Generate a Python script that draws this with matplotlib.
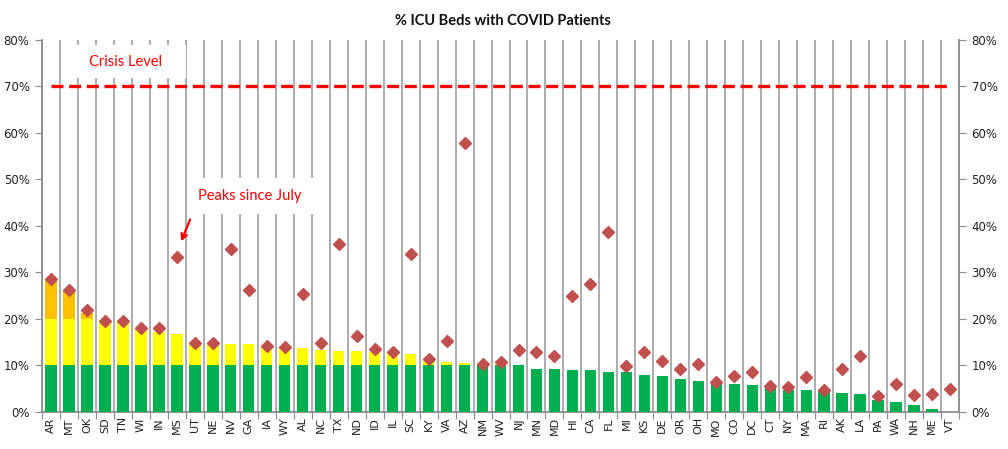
import numpy as np
import matplotlib
matplotlib.use("Agg")
import matplotlib.pyplot as plt
from matplotlib.ticker import FuncFormatter

states = ["AR","MT","OK","SD","TN","WI","IN","MS","UT","NE","NV","GA","IA","WY","AL","NC",
          "TX","ND","ID","IL","SC","KY","VA","AZ","NM","WV","NJ","MN","MD","HI","CA","FL",
          "MI","KS","DE","OR","OH","MO","CO","DC","CT","NY","MA","RI","AK","LA","PA","WA",
          "NH","ME","VT"]
current = [28.4,26.2,21.3,19.8,19.8,18.1,17.1,16.8,14.9,14.9,14.6,14.6,14.0,14.0,13.7,13.2,
           13.0,13.0,12.8,12.8,12.5,11.1,10.6,10.4,10.2,10.2,10.1,9.2,9.2,9.0,9.0,8.5,
           8.5,8.0,7.6,7.1,6.6,6.4,5.9,5.7,5.5,4.7,4.7,4.7,4.0,3.8,2.6,2.1,
           1.5,0.5,0.0]
peak = [28.5,26.1,21.9,19.5,19.5,18.1,18.1,33.2,14.8,14.8,35.1,26.3,14.1,13.9,25.4,14.8,
        36.0,16.4,13.4,12.9,33.9,11.3,15.3,57.8,10.3,10.8,13.2,12.9,12.1,24.9,27.4,38.6,
        9.9,12.9,11.0,9.1,10.2,6.4,7.7,8.6,5.6,5.4,7.5,4.6,9.1,12.1,3.3,6.0,
        3.5,3.9,4.9]
crisis_level = 70
band_low, band_high = 10, 20

title = "% ICU Beds with COVID Patients"

cur = np.array(current)
green = np.minimum(cur, band_low)
yellow = np.clip(cur, band_low, band_high) - band_low
orange = np.maximum(cur, band_high) - band_high

n = len(states)
x = np.arange(n)

fig = plt.figure(figsize=(10.08, 4.49), dpi=100)
ax = fig.add_axes([0.0417, 0.083, 0.9097, 0.828])
ax.set_axisbelow(True)

w = 0.63
ax.bar(x, green, w, color="#00B050", zorder=3)
ax.bar(x, yellow, w, bottom=green, color="#FFFF00", zorder=3)
ax.bar(x, orange, w, bottom=green + yellow, color="#FFC000", zorder=3)
ax.plot(x, peak, linestyle="none", marker="D", markersize=6.3,
        color="#C0504D", zorder=5)
ax.plot(x, [crisis_level] * n, color="#FF0000", linewidth=2.4,
        dashes=(3.6, 1.7), zorder=4)

ax.set_xlim(-0.5, n - 0.5)
ax.set_ylim(0, 80)
ax.set_yticks(np.arange(0, 81, 10))
ax.yaxis.set_major_formatter(FuncFormatter(lambda v, p: f"{int(v)}%"))

ax.set_xticks(np.arange(n + 1) - 0.5)
ax.set_xticklabels([])
ax.set_xticks(x, minor=True)
ax.set_xticklabels(states, minor=True, rotation=90, fontsize=8, color="#222222")
ax.tick_params(axis="x", which="minor", length=0, pad=4)
ax.tick_params(axis="x", which="major", length=5, color="#8C8C8C", direction="out")
ax.grid(axis="x", which="major", color="#A6A6A6", linewidth=1.3)
ax.tick_params(axis="y", which="major", left=True, right=True, labelleft=True,
               labelright=True, length=5, color="#8C8C8C", labelsize=8.5,
               labelcolor="#222222", pad=4)

for s in ["left", "right", "bottom"]:
    ax.spines[s].set_color("#8C8C8C")
    ax.spines[s].set_linewidth(1.3)
ax.spines["top"].set_visible(False)

fig.text(0.499, 0.953, title, ha="center", va="center", fontsize=10.5,
         fontweight="bold", family="Lato", color="#111111")

ax.text(4.12, 75.3, "    Crisis Level    ", ha="center", va="center", fontsize=10.5,
        family="Lato", color="#FF0000", zorder=6,
        bbox=dict(boxstyle="square,pad=0.65", facecolor="white", edgecolor="none"))
ax.text(11.07, 46.4, "Peaks since July", ha="center", va="center", fontsize=10.5,
        family="Lato", color="#FF0000", zorder=6,
        bbox=dict(boxstyle="square,pad=0.75", facecolor="white", edgecolor="none"))
ax.annotate("", xy=(7.18, 36.1), xytext=(7.79, 41.9),
            arrowprops=dict(arrowstyle="->", color="#FF0000", lw=1.6), zorder=6)

fig.savefig("out.png", dpi=100)
